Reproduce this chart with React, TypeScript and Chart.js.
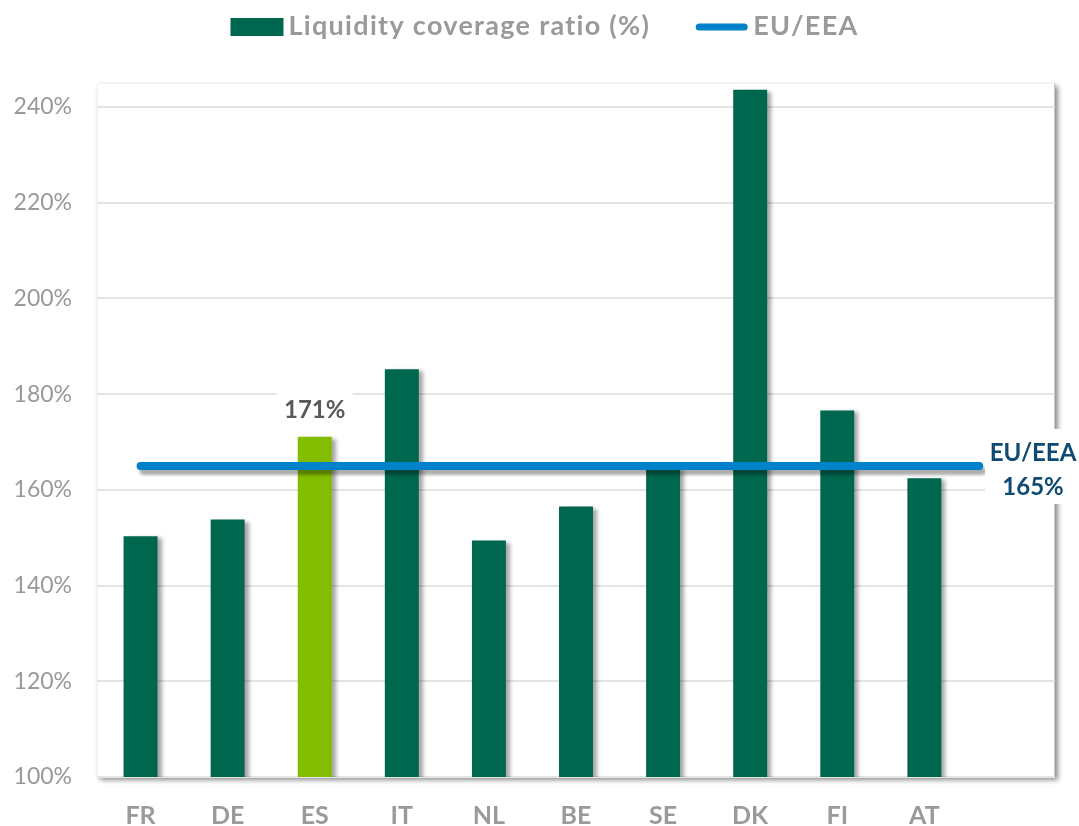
import React, { useEffect, useRef } from "react";
import { Chart, registerables } from "chart.js";

Chart.register(...registerables);

const categories = ["FR", "DE", "ES", "IT", "NL", "BE", "SE", "DK", "FI", "AT", ""];
const lcrValues: (number | null)[] = [150.3, 153.8, 171.1, 185.2, 149.4, 156.5, 164.5, 243.6, 176.6, 162.4, null];
const highlightCategory = "ES";
const highlightLabel = "171%";
const euValue = 165;
const euLabel = ["EU/EEA", "165%"];
const euLineSpan = [0, 9.63];
const yMin = 100;
const yMax = 245;
const yTicks = [100, 120, 140, 160, 180, 200, 220, 240];

const DARK_GREEN = "#00674F";
const LIGHT_GREEN = "#84BC00";
const BLUE = "#0082CA";
const FONT = "Lato";

export default function App() {
  const ref = useRef<HTMLCanvasElement | null>(null);

  useEffect(() => {
    if (!ref.current) return;

    const plotBg = {
      id: "plotBg",
      beforeDraw(chart: any) {
        const { ctx, chartArea: a } = chart;
        ctx.save();
        ctx.fillStyle = "#ffffff";
        ctx.fillRect(0, 0, chart.width, chart.height);
        ctx.shadowColor = "rgba(0,0,0,0.45)";
        ctx.shadowOffsetX = 3;
        ctx.shadowOffsetY = 3;
        ctx.shadowBlur = 5;
        ctx.fillRect(a.left, a.top, a.right - a.left, a.bottom - a.top);
        ctx.restore();
        ctx.save();
        ctx.strokeStyle = "#f1f1f1";
        ctx.lineWidth = 1;
        ctx.beginPath();
        ctx.moveTo(a.left + 0.5, a.bottom);
        ctx.lineTo(a.left + 0.5, a.top + 0.5);
        ctx.lineTo(a.right, a.top + 0.5);
        ctx.stroke();
        ctx.strokeStyle = "#c8c8c8";
        ctx.beginPath();
        ctx.moveTo(a.right - 0.5, a.top);
        ctx.lineTo(a.right - 0.5, a.bottom - 0.5);
        ctx.lineTo(a.left, a.bottom - 0.5);
        ctx.stroke();
        ctx.restore();
      },
    };

    const shadows = {
      id: "shadows",
      beforeDatasetDraw(chart: any, args: any) {
        const ctx = chart.ctx;
        ctx.save();
        if (args.meta.type === "line") {
          ctx.shadowColor = "rgba(0,0,0,0.32)";
          ctx.shadowOffsetX = 3;
          ctx.shadowOffsetY = 5;
          ctx.shadowBlur = 3;
        } else {
          ctx.shadowColor = "rgba(0,0,0,0.35)";
          ctx.shadowOffsetX = 4;
          ctx.shadowOffsetY = 2;
          ctx.shadowBlur = 4;
        }
      },
      afterDatasetDraw(chart: any) {
        chart.ctx.restore();
      },
    };

    const labels = {
      id: "labels",
      afterDraw(chart: any) {
        const { ctx, chartArea: a } = chart;
        const yScale = chart.scales.y;
        // highlighted bar label
        const idx = categories.indexOf(highlightCategory);
        const el = chart.getDatasetMeta(0).data[idx];
        if (el) {
          ctx.save();
          ctx.fillStyle = "#ffffff";
          ctx.fillRect(el.x - 38, el.y - 48, 76, 40);
          ctx.font = `bold 24px ${FONT}`;
          ctx.fillStyle = "#595959";
          ctx.textAlign = "center";
          ctx.textBaseline = "middle";
          ctx.fillText(highlightLabel, el.x, el.y - 26);
          ctx.restore();
        }
        // EU label
        const ly = yScale.getPixelForValue(euValue);
        const cx = a.right - 22;
        ctx.save();
        ctx.fillStyle = "#ffffff";
        ctx.fillRect(cx - 48, ly - 37, chart.width - (cx - 48), 75);
        ctx.font = `bold 24px ${FONT}`;
        ctx.fillStyle = "#0E4A72";
        ctx.textAlign = "center";
        ctx.textBaseline = "middle";
        ctx.fillText(euLabel[0], cx, ly - 13);
        ctx.fillText(euLabel[1], cx, ly + 21);
        ctx.restore();

        // legend
        const ds = chart.data.datasets;
        ctx.save();
        ctx.font = `bold 27px ${FONT}`;
        (ctx as any).letterSpacing = "1.3px";
        const boxW = 53;
        const gap = 5;
        const itemGap = 45;
        const widths = ds.map((d: any) => boxW + gap + ctx.measureText(d.label).width);
        const total = widths.reduce((s: number, w: number) => s + w, 0) + itemGap * (ds.length - 1);
        let x = chart.width / 2 + 5 - total / 2;
        const cy = 27;
        ds.forEach((d: any, i: number) => {
          if (d.type === "line") {
            ctx.strokeStyle = d.borderColor;
            ctx.lineWidth = 7;
            ctx.lineCap = "round";
            ctx.beginPath();
            ctx.moveTo(x + 4, cy);
            ctx.lineTo(x + boxW - 4, cy);
            ctx.stroke();
          } else {
            ctx.fillStyle = DARK_GREEN;
            ctx.fillRect(x, cy - 9, boxW, 18);
          }
          ctx.fillStyle = "#9a9a9a";
          ctx.textAlign = "left";
          ctx.textBaseline = "middle";
          ctx.fillText(d.label, x + boxW + gap, cy - 1);
          x += widths[i] + itemGap;
        });
        ctx.restore();
      },
    };

    const chart = new Chart(ref.current, {
      type: "bar",
      data: {
        labels: categories,
        datasets: [
          {
            type: "bar",
            label: "Liquidity coverage ratio (%)",
            data: lcrValues,
            backgroundColor: categories.map((c) => (c === highlightCategory ? LIGHT_GREEN : DARK_GREEN)),
            barPercentage: 0.39,
            categoryPercentage: 1,
            grouped: false,
            xAxisID: "x",
            order: 1,
          } as any,
          {
            type: "line",
            label: "EU/EEA",
            data: euLineSpan.map((x) => ({ x, y: euValue })),
            xAxisID: "x2",
            borderColor: BLUE,
            borderWidth: 8,
            borderCapStyle: "round",
            pointRadius: 0,
            fill: false,
            order: 0,
          } as any,
        ],
      },
      options: {
        responsive: false,
        animation: false,
        layout: { padding: { top: 83, right: 24, left: 0, bottom: 0 } },
        plugins: {
          legend: { display: false },
          tooltip: { enabled: false },
        },
        scales: {
          x: {
            type: "category",
            grid: { display: false, drawTicks: false },
            border: { display: false },
            ticks: {
              font: { family: FONT, size: 25, weight: "bold" },
              color: "#9a9a9a",
              padding: 24,
              autoSkip: false,
              maxRotation: 0,
            },
            afterFit(scale: any) {
              scale.height = 49;
            },
          },
          x2: {
            type: "linear",
            display: false,
            offset: false,
            grid: { offset: false },
            min: -0.5,
            max: categories.length - 0.5,
          },
          y: {
            min: yMin,
            max: yMax,
            grid: { color: "#e4e4e4", lineWidth: 2, drawTicks: false },
            border: { display: false },
            ticks: {
              font: { family: FONT, size: 23 },
              color: "#999999",
              padding: 25,
              callback: (v: any) => `${v}%`,
            },
            afterBuildTicks(axis: any) {
              axis.ticks = yTicks.map((v) => ({ value: v }));
            },
            afterFit(scale: any) {
              scale.width = 97;
            },
          },
        },
      },
      plugins: [plotBg, shadows, labels],
    } as any);

    return () => chart.destroy();
  }, []);

  return (
    <div style={{ position: "fixed", left: 0, top: 0, width: 1079, height: 826, background: "#fff" }}>
      <canvas ref={ref} width={1079} height={826} style={{ display: "block" }} />
    </div>
  );
}
